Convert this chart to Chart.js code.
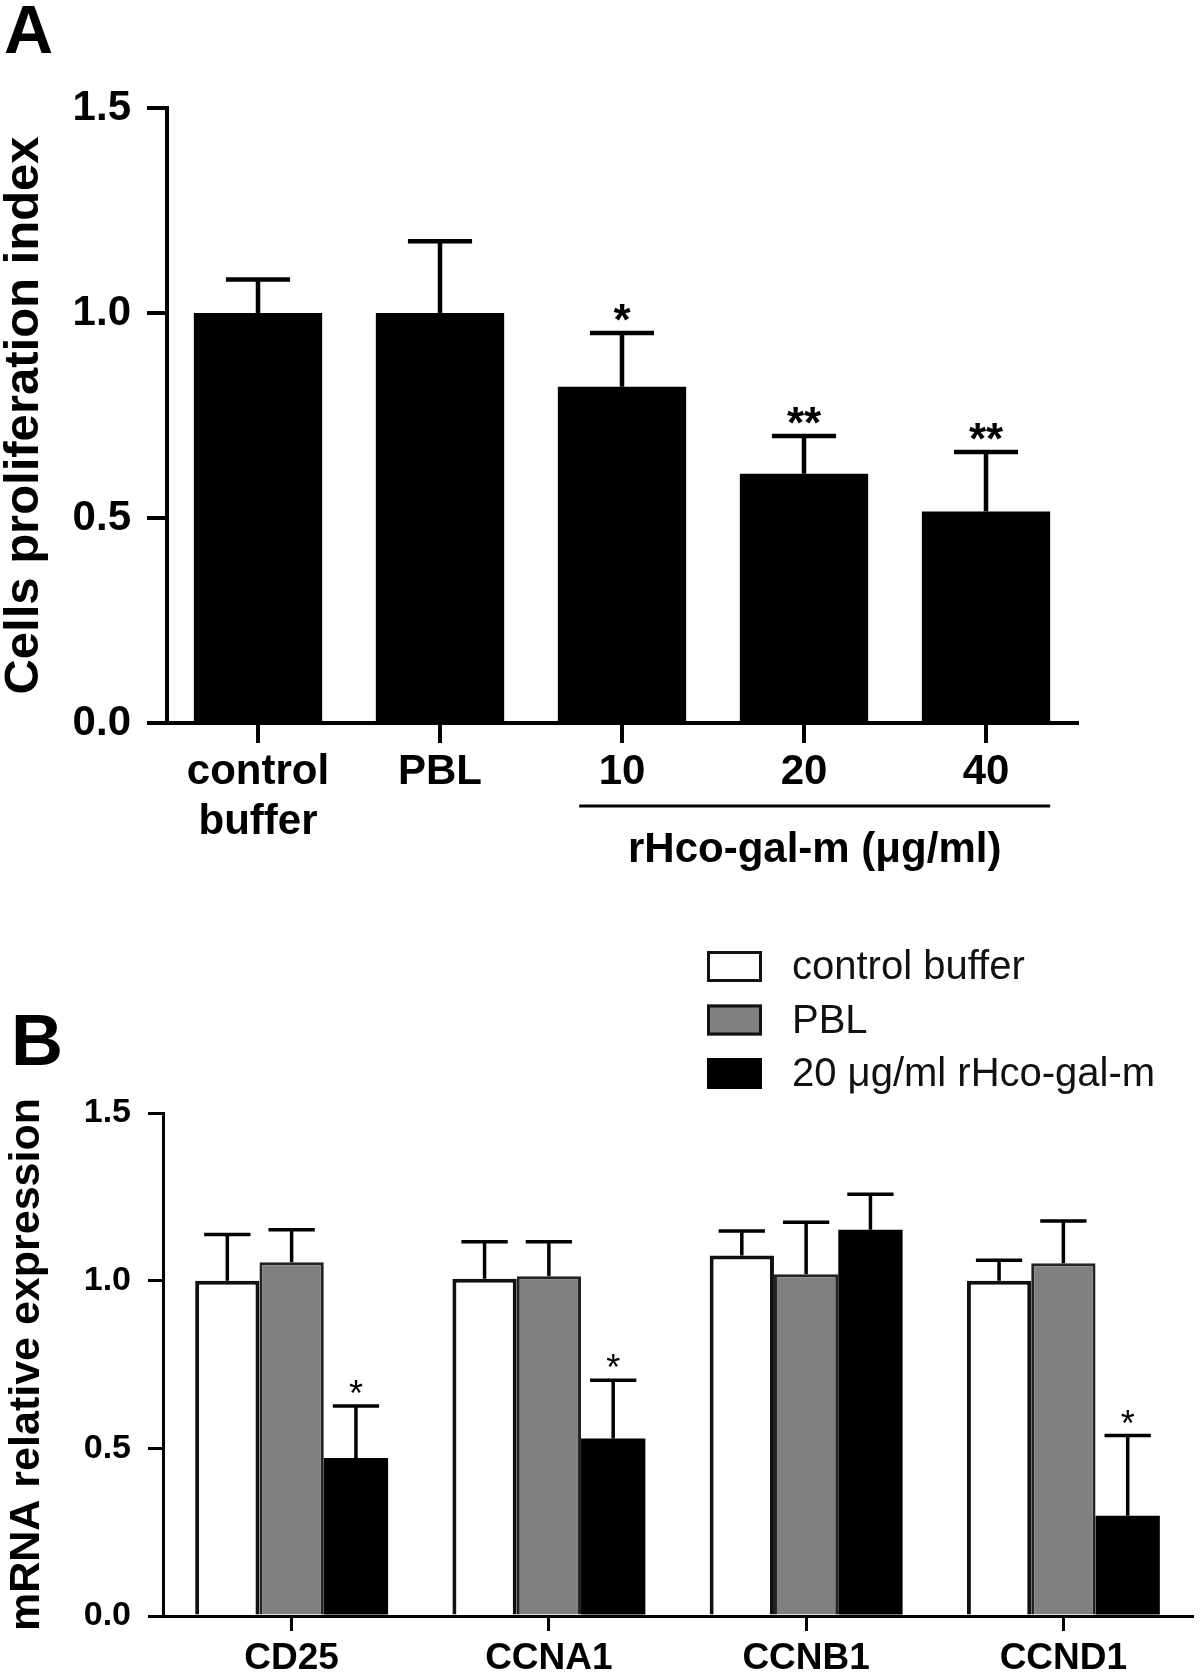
<!DOCTYPE html>
<html><head><meta charset="utf-8">
<script src="https://cdn.jsdelivr.net/npm/chart.js@4.4.1/dist/chart.umd.min.js"></script>
<style>
html,body{margin:0;padding:0;background:#fff;}
#wrap{position:relative;width:1200px;height:1676px;background:#fff;}
canvas{position:absolute;left:0;}
</style></head><body>
<div id="wrap">
<canvas id="cA" width="1200" height="900" style="top:0;width:1200px;height:900px"></canvas>
<canvas id="cB" width="1200" height="776" style="top:900px;width:1200px;height:776px"></canvas>
</div>
<script>
const FONT = "'Liberation Sans', Arial, Helvetica, sans-serif";

// ---------- Panel A data ----------
const catsA = [['control', 'buffer'], 'PBL', '10', '20', '40'];
const meansA = [1.0, 1.0, 0.82, 0.608, 0.516];
const semA = [0.082, 0.175, 0.131, 0.092, 0.145];
const starsA = ['', '', '*', '**', '**'];
const ticksA = [0, 0.5, 1.0, 1.5];
const yTitleA = 'Cells proliferation index';
const bracketLabelA = 'rHco-gal-m (μg/ml)';

// ---------- Panel B data ----------
const catsB = ['CD25', 'CCNA1', 'CCNB1', 'CCND1'];
const seriesB = ['control buffer', 'PBL', '20 μg/ml rHco-gal-m'];
const controlB = [1.0, 1.006, 1.075, 1.0];
const controlSemB = [0.138, 0.11, 0.073, 0.061];
const pblB = [1.055, 1.013, 1.019, 1.052];
const pblSemB = [0.097, 0.103, 0.155, 0.126];
const galB = [0.471, 0.529, 1.152, 0.299];
const galSemB = [0.155, 0.174, 0.106, 0.239];
const starsB = ['*', '*', '', '*'];
const ticksB = [0, 0.5, 1.0, 1.5];
const yTitleB = 'mRNA relative expression';

// ---------- plugins ----------
const errorBars = {
  id: 'errorBars',
  afterDatasetsDraw(chart, args, opts) {
    const ctx = chart.ctx, ys = chart.scales.y;
    chart.data.datasets.forEach((ds, i) => {
      const meta = chart.getDatasetMeta(i);
      meta.data.forEach((bar, j) => {
        const top = ys.getPixelForValue(ds.data[j] + ds.sem[j]);
        const half = bar.width * opts.cap / 2;
        ctx.save();
        ctx.strokeStyle = '#000';
        ctx.lineWidth = opts.lw;
        ctx.beginPath();
        ctx.moveTo(bar.x, bar.y);
        ctx.lineTo(bar.x, top);
        ctx.moveTo(bar.x - half, top);
        ctx.lineTo(bar.x + half, top);
        ctx.stroke();
        const s = ds.stars && ds.stars[j];
        if (s) {
          ctx.fillStyle = '#000';
          ctx.font = opts.starFont;
          ctx.textAlign = 'center';
          ctx.textBaseline = 'alphabetic';
          ctx.fillText(s, bar.x, top + opts.starDy);
        }
        ctx.restore();
      });
    });
  }
};

const panelLabel = {
  id: 'panelLabel',
  afterDraw(chart, args, opts) {
    const ctx = chart.ctx;
    ctx.save();
    ctx.fillStyle = '#000';
    ctx.font = 'bold ' + opts.size + 'px ' + FONT;
    ctx.textAlign = 'left';
    ctx.textBaseline = 'alphabetic';
    ctx.fillText(opts.text, opts.x, opts.y);
    ctx.restore();
  }
};

const bracketA = {
  id: 'bracketA',
  afterDraw(chart) {
    const meta = chart.getDatasetMeta(0);
    const b2 = meta.data[2], b4 = meta.data[4];
    const x1 = b2.x - b2.width / 3, x2 = b4.x + b4.width / 2;
    const ctx = chart.ctx;
    ctx.save();
    ctx.strokeStyle = '#000';
    ctx.lineWidth = 3;
    ctx.beginPath();
    ctx.moveTo(x1, 806);
    ctx.lineTo(x2, 806);
    ctx.stroke();
    ctx.fillStyle = '#000';
    ctx.font = 'bold 42px ' + FONT;
    ctx.textAlign = 'center';
    ctx.textBaseline = 'middle';
    ctx.fillText(bracketLabelA, (x1 + x2) / 2, 850);
    ctx.restore();
  }
};

const legendB = {
  id: 'legendB',
  afterDraw(chart) {
    const ctx = chart.ctx;
    ctx.save();
    chart.data.datasets.forEach((ds, i) => {
      const top = 51 + i * 53.5;
      ctx.fillStyle = ds.backgroundColor;
      ctx.fillRect(707, top, 55, 31);
      if (ds.borderWidth) {
        ctx.strokeStyle = '#111';
        ctx.lineWidth = 3;
        ctx.strokeRect(708.5, top + 1.5, 52, 28);
      }
      ctx.fillStyle = '#111';
      ctx.font = '40px ' + FONT;
      ctx.textAlign = 'left';
      ctx.textBaseline = 'middle';
      ctx.fillText(ds.label, 792, top + 17);
    });
    ctx.restore();
  }
};

function yAxis(ticks, width, tickLen, lw, tickFont, padding, title, titleFont, titlePad) {
  return {
    min: 0, max: 1.5,
    afterBuildTicks: s => { s.ticks = ticks.map(v => ({ value: v })); },
    afterFit: s => { s.width = width; },
    grid: { display: true, drawOnChartArea: false, drawTicks: true, tickLength: tickLen, lineWidth: lw, color: '#000' },
    border: { display: true, width: lw, color: '#000' },
    ticks: { color: '#000', font: { family: FONT, size: tickFont, weight: 'bold' }, padding: padding,
      callback: v => Number(v).toFixed(1) },
    title: { display: true, text: title, color: '#000', padding: { top: titlePad, bottom: 0 },
      font: { family: FONT, size: titleFont, weight: 'bold', lineHeight: 1 } }
  };
}

function xAxis(height, tickLen, lw, fontSize, padding) {
  return {
    offset: true,
    afterFit: s => { s.height = height; },
    grid: { display: true, offset: false, drawOnChartArea: false, drawTicks: true, tickLength: tickLen, lineWidth: lw, color: '#000' },
    border: { display: true, width: lw, color: '#000' },
    ticks: { color: '#000', font: { family: FONT, size: fontSize, weight: 'bold', lineHeight: 1.2 }, padding: padding, maxRotation: 0, autoSkip: false }
  };
}

// ---------- Chart A ----------
new Chart(document.getElementById('cA'), {
  type: 'bar',
  data: {
    labels: catsA,
    datasets: [{
      data: meansA, sem: semA, stars: starsA,
      backgroundColor: '#000', borderWidth: 0,
      categoryPercentage: 0.705, barPercentage: 1.0
    }]
  },
  options: {
    responsive: false, animation: false, devicePixelRatio: 1,
    layout: { padding: { left: 0, right: 123, top: 108, bottom: 0 } },
    plugins: {
      legend: { display: false }, tooltip: { enabled: false },
      errorBars: { cap: 0.5, lw: 4.5, starFont: 'bold 44px ' + FONT, starDy: 2 },
      panelLabel: { text: 'A', x: 4, y: 53, size: 68 }
    },
    scales: {
      x: xAxis(177, 20, 4, 42, 4),
      y: yAxis(ticksA, 167, 20, 4, 42, 16, yTitleA, 49, 0)
    }
  },
  plugins: [errorBars, panelLabel, bracketA]
});

// ---------- Chart B ----------
new Chart(document.getElementById('cB'), {
  type: 'bar',
  data: {
    labels: catsB,
    datasets: [
      { label: seriesB[0], data: controlB, sem: controlSemB, backgroundColor: '#ffffff', borderColor: '#111', borderWidth: 4,
        categoryPercentage: 0.75, barPercentage: 1.0 },
      { label: seriesB[1], data: pblB, sem: pblSemB, backgroundColor: '#808080', borderColor: '#222', borderWidth: 3,
        categoryPercentage: 0.75, barPercentage: 1.0 },
      { label: seriesB[2], data: galB, sem: galSemB, stars: starsB, backgroundColor: '#000000', borderWidth: 0,
        categoryPercentage: 0.75, barPercentage: 1.0 }
    ]
  },
  options: {
    responsive: false, animation: false, devicePixelRatio: 1,
    layout: { padding: { left: 0, right: 8, top: 213, bottom: 0 } },
    plugins: {
      legend: { display: false }, tooltip: { enabled: false },
      errorBars: { cap: 0.72, lw: 3.5, starFont: '36px ' + FONT, starDy: 0 },
      panelLabel: { text: 'B', x: 11, y: 165, size: 72 }
    },
    scales: {
      x: xAxis(60, 15, 3, 37, 6),
      y: yAxis(ticksB, 163, 15, 3, 34, 17, yTitleB, 43, 6)
    }
  },
  plugins: [errorBars, panelLabel, legendB]
});
</script>
</body></html>
